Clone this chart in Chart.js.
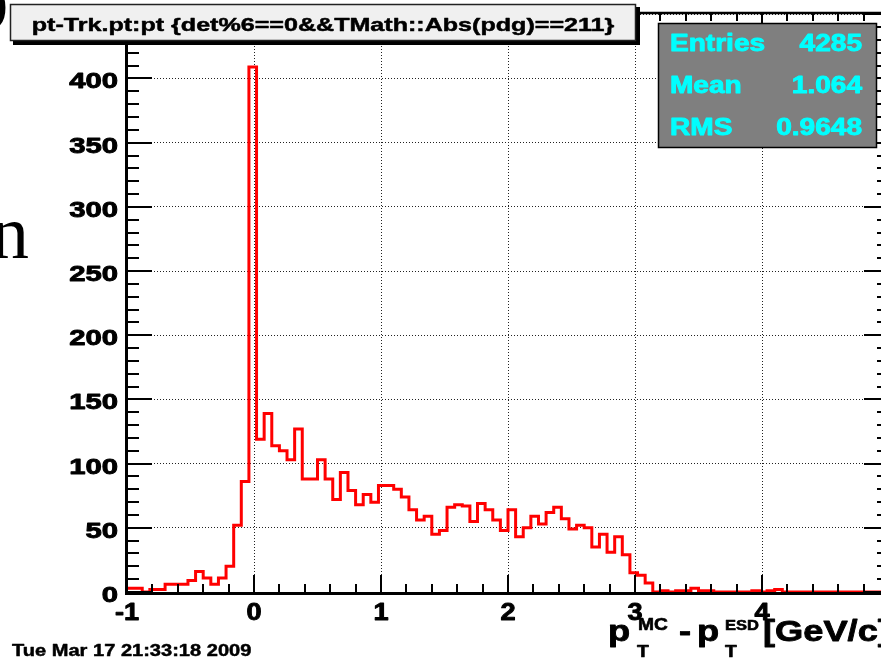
<!DOCTYPE html>
<html>
<head>
<meta charset="utf-8">
<title>pt-Trk.pt:pt</title>
<script src="https://cdn.jsdelivr.net/npm/chart.js@4.4.1/dist/chart.umd.min.js"></script>
<style>
    html, body { margin: 0; padding: 0; background: #fff; overflow: hidden; }
    #wrap { position: relative; width: 881px; height: 658px; overflow: hidden; }
    #histo { position: absolute; left: 0; top: 0; }
</style>
</head>
<body>
<div id="wrap"><canvas id="histo" width="900" height="658"></canvas></div>
<script>
// histogram: 100 bins of 0.06 GeV/c from -1 to 5
const binLow = -1;
const binWidth = 0.06;
const binCounts = [
    3, 3, 0, 2, 2, 6, 6, 6, 9, 16,
    11, 6, 11, 20, 52, 86, 409, 119, 139, 114,
    110, 103, 127, 88, 88, 103, 88, 72, 93, 79,
    68, 76, 70, 83, 83, 80, 74, 64, 56, 59,
    45, 48, 66, 68, 67, 55, 69, 64, 56, 48,
    64, 43, 50, 59, 53, 62, 66, 57, 49, 52,
    50, 35, 45, 31, 43, 29, 15, 13, 7, 0,
    1, 0, 1, 1, 3, 1, 1, 0, 0, 0,
    0, 0, 1, 0, 1, 2, 0, 0, 0, 0,
    0, 0, 0, 0, 0, 0, 0, 0, 0, 0
];

const xTickValues = [-1, 0, 1, 2, 3, 4, 5];
const xTickLabels = ['-1', '0', '1', '2', '3', '4', '5'];
const yTickValues = [0, 50, 100, 150, 200, 250, 300, 350, 400, 450];
const yTickLabels = ['0', '50', '100', '150', '200', '250', '300', '350', '400', '450'];

const histTitle = 'pt-Trk.pt:pt {det%6==0&&TMath::Abs(pdg)==211}';
const statNames = ['Entries', 'Mean', 'RMS'];
const statValues = ['4285', '1.064', '0.9648'];
const printDate = 'Tue Mar 17 21:33:18 2009';

const FONT = '"Liberation Sans", Arial, sans-serif';

// bold text, widened horizontally and thickened with a thin outline
function stretchText(ctx, text, x, y, size, sx, align, weight) {
    ctx.save();
    ctx.font = 'bold ' + size + 'px ' + FONT;
    ctx.textAlign = align || 'left';
    ctx.textBaseline = 'alphabetic';
    ctx.translate(x, y);
    ctx.scale(sx, 1);
    ctx.fillText(text, 0, 0);
    if (weight) {
        ctx.strokeStyle = ctx.fillStyle;
        ctx.lineWidth = weight;
        ctx.lineJoin = 'round';
        ctx.strokeText(text, 0, 0);
    }
    ctx.restore();
}

function seg(ctx, x1, y1, x2, y2) {
    ctx.beginPath();
    ctx.moveTo(x1, y1);
    ctx.lineTo(x2, y2);
    ctx.stroke();
}

// ROOT-style frame: thick axes, ticks on all four sides, labels, pave boxes
const rootFrame = {
    id: 'rootFrame',
    afterDraw(chart) {
        const ctx = chart.ctx;
        const a = chart.chartArea;
        const x = chart.scales.x;
        const y = chart.scales.y;

        ctx.save();
        ctx.strokeStyle = '#000';
        ctx.fillStyle = '#000';

        // minor and major ticks
        ctx.lineWidth = 2;
        for (let i = 0; i * 10 <= y.max; i++) {
            const py = Math.round(y.getPixelForValue(i * 10));
            const len = i % 5 === 0 ? 25 : 12;
            seg(ctx, a.left, py, a.left + len, py);
            seg(ctx, a.right - len, py, a.right, py);
        }
        for (let i = 0; i <= 30; i++) {
            const px = Math.round(x.getPixelForValue(binLow + i * 0.2));
            const len = i % 5 === 0 ? 17 : 8;
            seg(ctx, px, a.bottom, px, a.bottom - len);
            seg(ctx, px, a.top, px, a.top + len);
        }

        // axis lines
        ctx.lineWidth = 3;
        seg(ctx, a.left - 0.5, a.top, a.left - 0.5, a.bottom + 3);
        seg(ctx, a.left - 2, a.bottom + 1.5, a.right, a.bottom + 1.5);
        ctx.lineWidth = 2.5;
        seg(ctx, a.left - 2, a.top, a.right, a.top);
        seg(ctx, a.right, a.top, a.right, a.bottom);

        // tick labels
        yTickValues.forEach((v, i) => {
            stretchText(ctx, yTickLabels[i], a.left - 9, y.getPixelForValue(v) + 10, 22, 1.33, 'right', 0.9);
        });
        xTickValues.forEach((v, i) => {
            stretchText(ctx, xTickLabels[i], x.getPixelForValue(v), a.bottom + 28, 23, 1.18, 'center', 0.9);
        });

        // axis title p_T^MC - p_T^ESD [GeV/c]
        stretchText(ctx, 'p', 608, 641, 29, 1.25, 'left', 0.8);
        stretchText(ctx, 'MC', 638, 630, 16, 1.2, 'left', 0.6);
        stretchText(ctx, 'T', 637, 657, 16, 1.2, 'left', 0.6);
        stretchText(ctx, '-', 679, 641, 29, 1.25, 'left', 0.8);
        stretchText(ctx, 'p', 697, 641, 29, 1.25, 'left', 0.8);
        stretchText(ctx, 'ESD', 725, 630, 15, 1.1, 'left', 0.6);
        stretchText(ctx, 'T', 725, 657, 16, 1.2, 'left', 0.6);
        stretchText(ctx, '[GeV/c]', 763, 641, 29, 1.25, 'left', 0.8);

        // title pave with shadow
        ctx.fillStyle = '#000';
        ctx.fillRect(13, 7, 627, 38);
        ctx.fillStyle = '#f0f0f0';
        ctx.fillRect(10, 4, 626, 37);
        ctx.lineWidth = 1.5;
        ctx.strokeStyle = '#222';
        ctx.strokeRect(10.5, 4.5, 625, 36);
        ctx.fillStyle = '#000';
        stretchText(ctx, histTitle, 323, 31, 19, 1.32, 'center', 0.5);

        // statistics pave
        ctx.fillStyle = '#7f7f7f';
        ctx.fillRect(658, 23, 219, 125);
        ctx.strokeStyle = '#000';
        ctx.lineWidth = 1.5;
        ctx.strokeRect(658.5, 23.5, 218, 124);
        ctx.fillStyle = '#00ffff';
        statNames.forEach((name, i) => {
            const by = 51 + i * 42;
            stretchText(ctx, name, 670, by, 23, 1.22, 'left', 0.9);
            stretchText(ctx, statValues[i], 862, by, 23, 1.22, 'right', 0.9);
        });

        // print date
        ctx.fillStyle = '#000';
        stretchText(ctx, printDate, 12, 656, 17, 1.18, 'left', 0.5);

        // slide text around the canvas
        ctx.font = '76px "Liberation Serif", "Times New Roman", serif';
        ctx.textAlign = 'left';
        ctx.fillText('n', -9, 258);
        ctx.font = 'bold 50px "Liberation Serif", "Times New Roman", serif';
        ctx.fillText(')', -9, 20);

        ctx.restore();
    }
};

function buildSteps() {
    const pts = binCounts.map((c, i) => ({ x: binLow + i * binWidth, y: c }));
    pts.push({ x: binLow + binCounts.length * binWidth, y: binCounts[binCounts.length - 1] });
    return pts;
}

function gridColor(ctx) {
    const v = ctx.tick ? ctx.tick.value : NaN;
    return ctx.scale.axis === 'x'
        ? (xTickValues.includes(v) ? '#222' : 'rgba(0,0,0,0)')
        : (yTickValues.includes(v) ? '#222' : 'rgba(0,0,0,0)');
}

new Chart(document.getElementById('histo'), {
    type: 'line',
    data: {
        datasets: [{
            data: buildSteps(),
            stepped: 'before',
            borderColor: '#ff0000',
            borderWidth: 3,
            pointRadius: 0,
            fill: false
        }]
    },
    options: {
        responsive: false,
        animation: false,
        devicePixelRatio: 1,
        layout: {
            autoPadding: false,
            padding: { left: 127, top: 13, right: 11, bottom: 66 }
        },
        plugins: {
            legend: { display: false },
            tooltip: { enabled: false }
        },
        scales: {
            x: {
                type: 'linear',
                min: -1,
                max: 5,
                afterBuildTicks: s => { s.ticks = xTickValues.map(v => ({ value: v })); },
                afterFit: s => { s.height = 0; },
                ticks: { display: false },
                grid: { color: gridColor, lineWidth: 1, drawTicks: false },
                border: { display: false, dash: [1, 2] }
            },
            y: {
                type: 'linear',
                min: 0,
                max: 451,
                afterBuildTicks: s => { s.ticks = yTickValues.map(v => ({ value: v })); },
                afterFit: s => { s.width = 0; },
                ticks: { display: false },
                grid: { color: gridColor, lineWidth: 1, drawTicks: false },
                border: { display: false, dash: [1, 2] }
            }
        }
    },
    plugins: [rootFrame]
});
</script>
</body>
</html>
